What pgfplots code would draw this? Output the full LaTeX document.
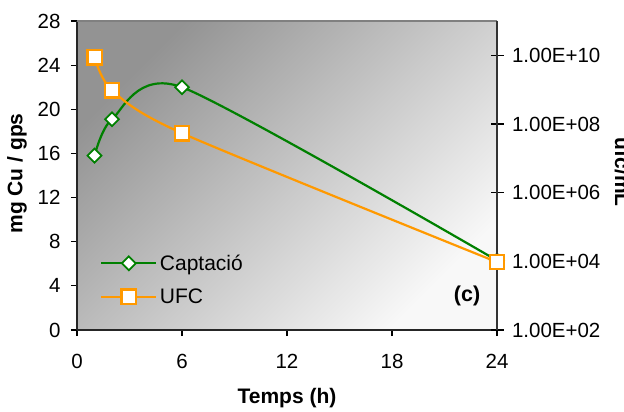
\documentclass[border=0pt]{standalone}
\usepackage{pgfplots}
\pgfplotsset{compat=1.18}
\usepackage{fontspec}
\setmainfont{Liberation Sans}
\definecolor{cgreen}{HTML}{008000}
\definecolor{corange}{HTML}{FF9900}
\definecolor{bgdark}{HTML}{939393}
\definecolor{bglight}{HTML}{F8F8F8}
\begin{document}
\begin{tikzpicture}
\pgfplotsset{
  base/.style={
    at={(77bp,82bp)}, anchor=south west,
    scale only axis, width=420bp, height=309bp,
    xmin=0, xmax=24,
    /pgf/number format/assume math mode=true,
    tick label style={font=\fontsize{20.5bp}{24bp}\selectfont},
    label style={font=\bfseries\fontsize{21bp}{25bp}\selectfont},
  },
  grn/.style={cgreen, line width=2.2bp, smooth, tension=0.42, mark=square*, mark size=4.9bp,
     mark options={rotate=45, fill=white, draw=cgreen, line width=1.8bp}},
  org/.style={corange, line width=2.2bp, smooth, tension=0.45, mark=square*, mark size=7.2bp,
     mark options={fill=white, draw=corange, line width=2.4bp}},
}
\begin{axis}[base,
  axis x line*=bottom, axis y line*=left,
  ymin=0, ymax=28, ytick={0,4,8,12,16,20,24,28}, xtick={0,6,12,18,24},
  tick align=outside, major tick length=6bp,
  axis line style={black!85, line width=1.3bp},
  tick style={black, line width=1.1bp},
  yticklabel style={xshift=-7bp},
  xticklabel style={yshift=-15bp},
  xlabel style={yshift=-12bp},
  ylabel style={at={(axis description cs:-0.1298,0.5065)}, anchor=base},
  axis background/.style={shading=axis, top color=bgdark, bottom color=bglight, shading angle=45},
  xlabel={Temps (h)}, ylabel={mg Cu / gps},
  clip=false,
]
\draw[gray, line width=2bp] (rel axis cs:0,1) -- (rel axis cs:1,1);
\addplot[grn] coordinates {(1,15.8) (2,19.1) (6,22.0) (24,6.3)};
\node[font=\bfseries\fontsize{21.5bp}{25bp}\selectfont] at (axis cs:22.29,3.08) {(c)};
\end{axis}
\begin{axis}[base,
  axis y line*=right, axis x line=none,
  ymode=log, ymin=1e2, ymax=1e11,
  ytick={1e2,1e4,1e6,1e8,1e10},
  yticklabels={1.00E+02,1.00E+04,1.00E+06,1.00E+08,1.00E+10},
  minor ytick={},
  tick align=center, major tick length=13bp,
  axis line style={black!80, line width=1.3bp},
  tick style={black, line width=1.1bp},
  yticklabel style={xshift=5bp},
  ylabel={ufc/mL},
  ylabel style={rotate=180, at={(axis description cs:1.2810,0.51)}, anchor=base},
  legend style={draw=none, fill=none, at={(0.0548,0.252)}, anchor=north west,
    inner sep=0pt, row sep=12bp, font=\fontsize{21bp}{25bp}\selectfont,
    nodes={inner sep=2.5bp}},
  legend cell align=left,
  legend image code/.code={\draw[mark repeat=2,mark phase=2,#1] plot coordinates {(0bp,0bp) (27.5bp,0bp) (55bp,0bp)};},
  clip=false,
]
\addlegendimage{grn}
\addlegendentry{Captació}
\addplot[org] coordinates {(1,8.7e9) (2,9.6e8) (6,5.4e7) (24,9.5e3)};
\addlegendentry{UFC}
\end{axis}
\pgfresetboundingbox
\useasboundingbox (0,0) rectangle (624bp,412bp);
\end{tikzpicture}
\end{document}
